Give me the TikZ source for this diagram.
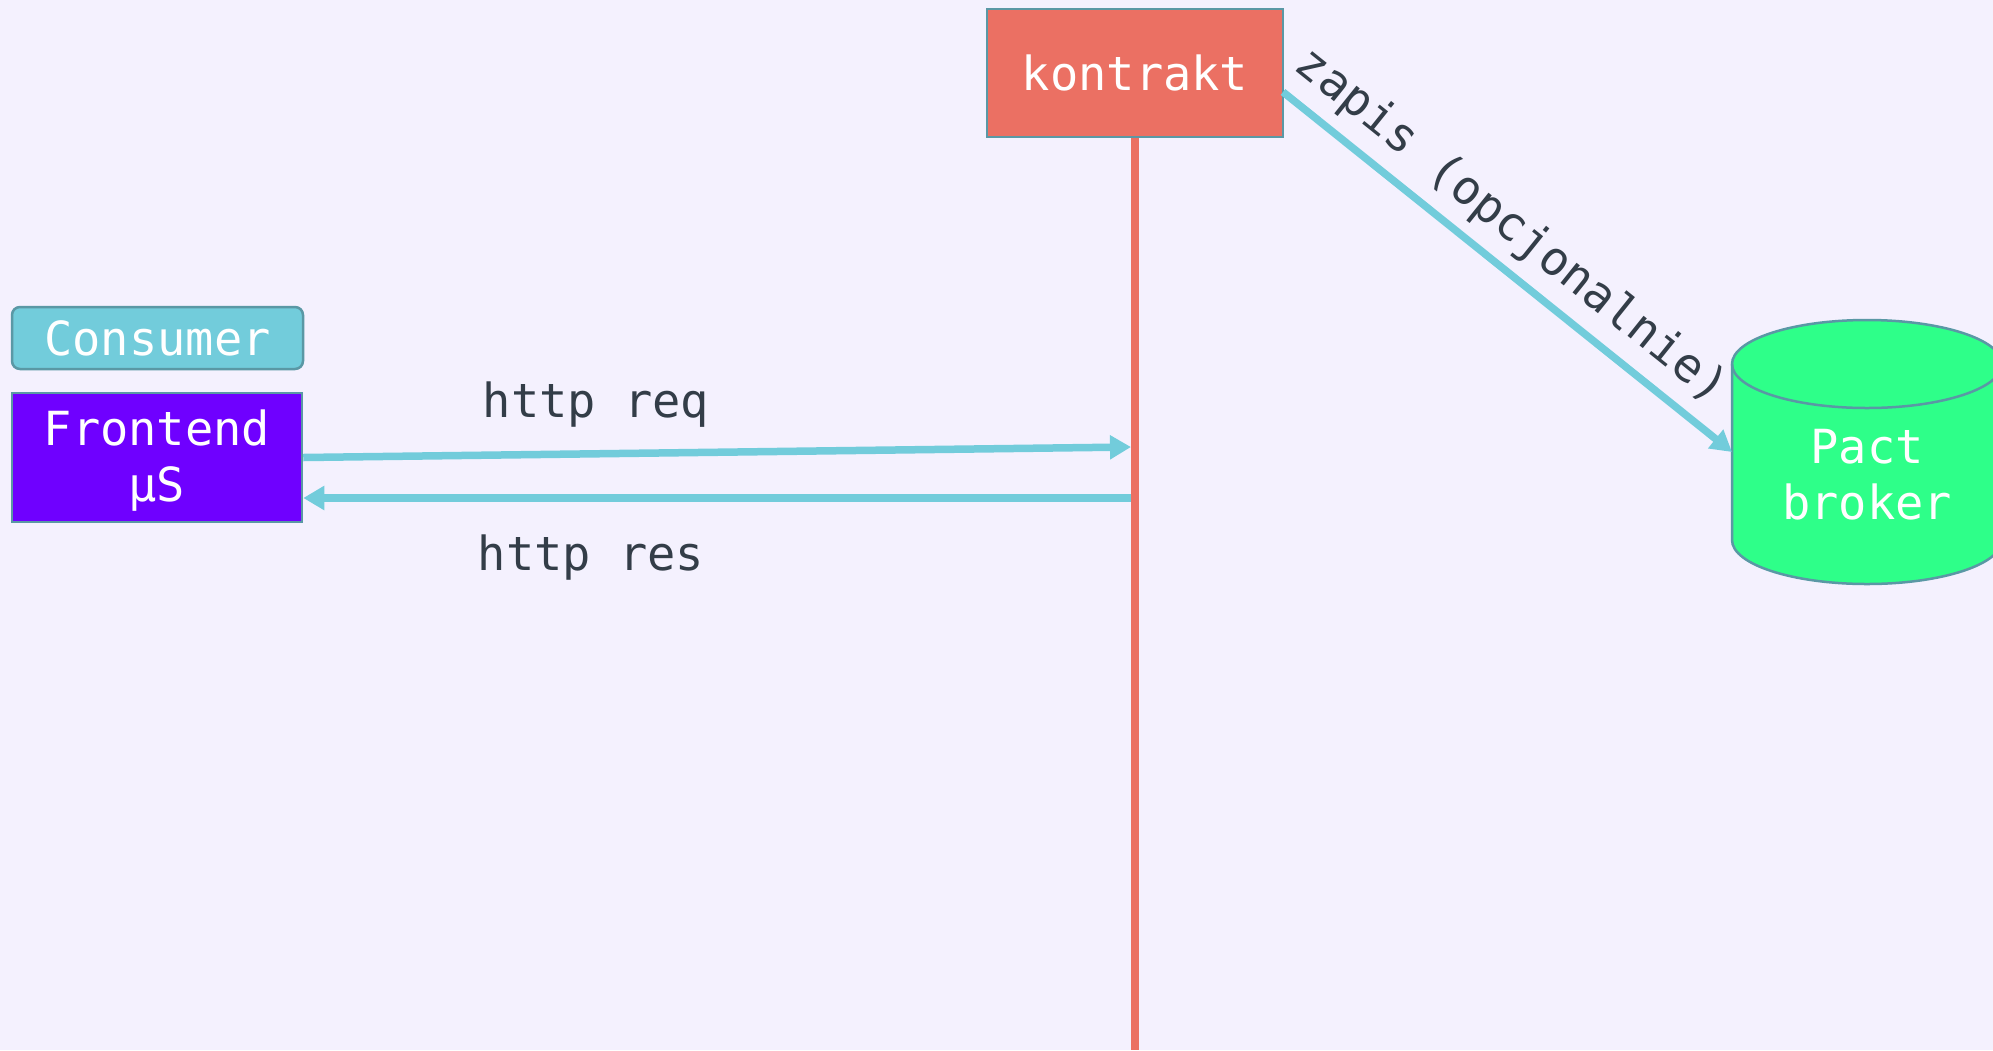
\documentclass[tikz,border=0pt]{standalone}
\usepackage{fontspec}
\setmonofont{DejaVu Sans Mono}
\usetikzlibrary{arrows.meta}
\definecolor{bg}{HTML}{F4F1FE}
\definecolor{teal1}{HTML}{72CCDB}
\definecolor{bord}{HTML}{5A98A5}
\definecolor{purp}{HTML}{6F00FF}
\definecolor{coral}{HTML}{EB7063}
\definecolor{pactc}{HTML}{2EFF89}
\definecolor{dark}{HTML}{333D48}
\begin{document}
\begin{tikzpicture}[x=1pt,y=-1pt,
  txt/.style={font=\ttfamily\fontsize{47}{56}\selectfont, align=center},
  box/.style={draw=bord, line width=2.5pt, inner sep=0pt, txt, text=white},
  conn/.style={draw=teal1, line width=7.5pt, -{Triangle[length=21pt,width=23pt]}},
  lbl/.style={txt, text=dark, inner sep=0pt}]
\fill[bg] (0,0) rectangle (1993,1050);
\useasboundingbox (0,0) rectangle (1993,1050);

% nodes
\node[box, fill=teal1, rounded corners=8pt, minimum width=291pt, minimum height=62pt] (consumer) at (157.5,338) {Consumer};
\node[box, fill=purp, minimum width=290pt, minimum height=129pt] (frontend) at (157,457.5) {};
\node[txt, text=white, inner sep=0pt] (frontendtxt) at (157,461) {Frontend\\μS};

% lifeline
\coordinate (lifeend) at (1135,1050);
\draw[coral, line width=8pt] (1135,137) -- (lifeend);
\node[box, fill=coral, minimum width=296pt, minimum height=128pt] (kontrakt) at (1135,73) {kontrakt};

% cylinder
\path[fill=pactc, draw=bord, line width=2.5pt] (1732,364) -- (1732,540)
  arc[start angle=180, end angle=360, x radius=135pt, y radius=44pt] -- (2002,364)
  arc[start angle=0, end angle=180, x radius=135pt, y radius=44pt] -- cycle;
\draw[bord, line width=2.5pt] (1732,364) arc[start angle=180, end angle=360, x radius=135pt, y radius=44pt];
\node[txt, text=white, inner sep=0pt] (pact) at (1867,475) {Pact\\broker};

% connectors
\coordinate (lreq) at (1131,447);
\coordinate (lres) at (1131,498);
\coordinate (zs) at (1283,92);
\coordinate (zt) at (1732,452);
\draw[conn] (frontend.east) -- (lreq);
\draw[conn] (lres) -- (frontend.east |- lres);
\draw[conn] (zs) -- (zt) node[pos=.455, sloped, above=11pt, lbl] (zapis) {zapis (opcjonalnie)};

% labels
\node[lbl, anchor=base] (req) at (596,417) {http req};
\node[lbl, anchor=base] (res) at (591,570) {http res};
\end{tikzpicture}
\end{document}
